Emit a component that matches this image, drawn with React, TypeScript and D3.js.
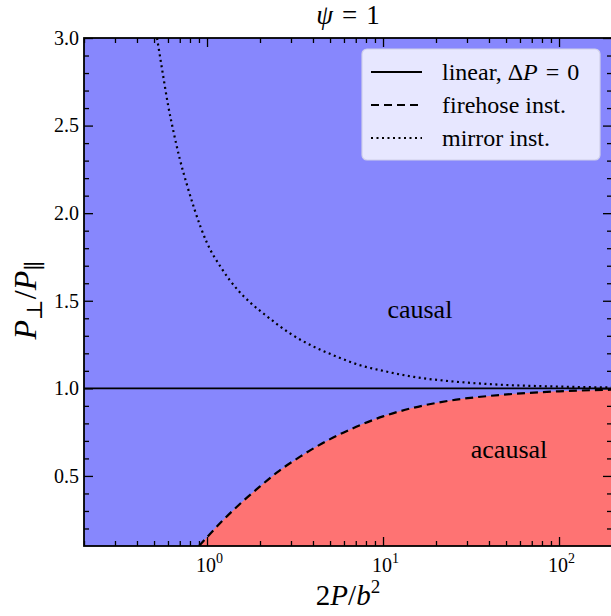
import { useEffect, useRef } from 'react'
import * as d3 from 'd3'

// Curves (x = 2P/b^2, y = P_perp / P_par)
const mirrorX = [0.52, 0.56, 0.6, 0.65, 0.7, 0.77, 0.85, 0.92, 1.0, 1.2, 1.5, 1.76, 2.2, 3.0, 4.0, 5.5, 7.5, 10, 15, 24, 46, 100, 200]
const mirrorY = [3.0, 2.8, 2.62, 2.45, 2.31, 2.16, 2.02, 1.92, 1.83, 1.69, 1.56, 1.49, 1.41, 1.31, 1.24, 1.18, 1.13, 1.1, 1.065, 1.041, 1.021, 1.01, 1.005]

const firehoseX = [0.9, 1.0, 1.2, 1.5, 2.0, 2.5, 3.38, 4.5, 6.5, 10, 15, 24, 46, 100, 200]
const firehoseY = [0.1, 0.15, 0.235, 0.33, 0.44, 0.52, 0.61, 0.685, 0.765, 0.84, 0.89, 0.93, 0.962, 0.983, 0.992]

const xDomain = [0.2, 200]
const yDomain = [0.1, 3.0]
const xMajor = [1, 10, 100]
const yMajor = [0.5, 1.0, 1.5, 2.0, 2.5, 3.0]

const legendItems = [
  { label: 'linear', dash: null },
  { label: 'firehose inst.', dash: '8,5' },
  { label: 'mirror inst.', dash: '2,3.5' },
]

const BLUE = '#8787fd'
const RED = '#fe7373'
const SERIF = "'Liberation Serif', 'Times New Roman', 'DejaVu Serif', 'Noto Serif', serif"

function App() {
  const ref = useRef<SVGSVGElement>(null)

  useEffect(() => {
    const width = 611
    const height = 616
    const margin = { top: 38, right: -1, bottom: 70, left: 84 }
    const w = width - margin.left - margin.right
    const h = height - margin.top - margin.bottom

    const root = d3.select(ref.current)
    root.selectAll('*').remove()

    const svg = root.append('g').attr('transform', `translate(${margin.left},${margin.top})`)

    const x = d3.scaleLog().domain(xDomain).range([0, w])
    const y = d3.scaleLinear().domain(yDomain).range([h, 0])

    svg.append('clipPath').attr('id', 'plot-clip')
      .append('rect').attr('width', w).attr('height', h)

    const plot = svg.append('g').attr('clip-path', 'url(#plot-clip)')

    // causal background
    plot.append('rect').attr('width', w).attr('height', h).attr('fill', BLUE)

    const fire = firehoseX.map((d, i) => [d, firehoseY[i]] as [number, number])
    const mirror = mirrorX.map((d, i) => [d, mirrorY[i]] as [number, number])

    // acausal region under the firehose curve
    const area = d3.area<[number, number]>()
      .x(d => x(d[0]))
      .y0(h)
      .y1(d => y(d[1]))
      .curve(d3.curveMonotoneX)
    plot.append('path').datum(fire).attr('d', area).attr('fill', RED)

    const line = d3.line<[number, number]>()
      .x(d => x(d[0]))
      .y(d => y(d[1]))
      .curve(d3.curveMonotoneX)

    plot.append('line')
      .attr('x1', 0).attr('x2', w)
      .attr('y1', y(1)).attr('y2', y(1))
      .attr('stroke', '#000').attr('stroke-width', 1.8)

    plot.append('path').datum(fire).attr('d', line)
      .attr('fill', 'none').attr('stroke', '#000').attr('stroke-width', 2.2)
      .attr('stroke-dasharray', '8,5')

    plot.append('path').datum(mirror).attr('d', line)
      .attr('fill', 'none').attr('stroke', '#000').attr('stroke-width', 2.2)
      .attr('stroke-dasharray', '2,3.5')

    // region labels
    svg.append('text')
      .attr('x', x(16.2)).attr('y', y(1.4))
      .attr('text-anchor', 'middle')
      .style('font-family', SERIF).attr('font-size', 26)
      .text('causal')
    svg.append('text')
      .attr('x', x(52)).attr('y', y(0.6))
      .attr('text-anchor', 'middle')
      .style('font-family', SERIF).attr('font-size', 26)
      .text('acausal')

    // legend
    const lg = svg.append('g').attr('transform', `translate(${362 - margin.left},${49 - margin.top})`)
    lg.append('rect')
      .attr('width', 238).attr('height', 111).attr('rx', 5)
      .attr('fill', '#e7e7ff').attr('stroke', '#d0d0ea').attr('stroke-width', 1.2)
    legendItems.forEach((item, i) => {
      const cy = 23 + i * 33
      const row = lg.append('g').attr('transform', `translate(0,${cy})`)
      row.append('line')
        .attr('x1', 9).attr('x2', 60)
        .attr('stroke', '#000').attr('stroke-width', 2.2)
        .attr('stroke-dasharray', item.dash)
      const t = row.append('text')
        .attr('x', 80).attr('y', 8)
        .style('font-family', SERIF).attr('font-size', 24)
      t.append('tspan').text(item.label)
      if (i === 0) {
        t.append('tspan').text(', Δ')
        t.append('tspan').attr('font-style', 'italic').text('P')
        t.append('tspan').text('\u2004=\u20040')
      }
    })

    // axes: ticks pointing inward on all four sides
    const styleAxis = (g: d3.Selection<SVGGElement, unknown, null, undefined>) => {
      g.attr('font-family', SERIF).style('font-family', SERIF)
      g.select('.domain').remove()
      g.selectAll('.tick line').attr('stroke', '#000').attr('stroke-width', 1.3)
      g.selectAll('.tick text')
        .attr('font-family', SERIF).style('font-family', SERIF)
        .attr('font-size', 20).attr('fill', '#000')
    }

    const xMinor = x.ticks().filter(v => !xMajor.includes(v))
    const yMinor = d3.range(2, 31).map(v => v / 10).filter(v => !yMajor.some(m => Math.abs(m - v) < 1e-9))

    // bottom
    const gxb = svg.append('g').attr('transform', `translate(0,${h})`)
      .call(d3.axisBottom(x).tickValues(xMajor).tickSizeInner(-9).tickSizeOuter(0).tickPadding(12).tickFormat(() => ''))
      .call(styleAxis)
    gxb.selectAll<SVGTextElement, number>('.tick text').each(function (d) {
      const t = d3.select(this)
      t.append('tspan').text('10')
      t.append('tspan').attr('dy', -9).attr('font-size', 14).text(String(Math.round(Math.log10(d))))
    }).attr('dy', '0.71em').attr('dx', '0.1em')
    svg.append('g').attr('transform', `translate(0,${h})`)
      .call(d3.axisBottom(x).tickValues(xMinor).tickSizeInner(-5).tickSizeOuter(0).tickFormat(() => ''))
      .call(styleAxis)

    // top
    svg.append('g')
      .call(d3.axisTop(x).tickValues(xMajor).tickSizeInner(-9).tickSizeOuter(0).tickFormat(() => ''))
      .call(styleAxis)
    svg.append('g')
      .call(d3.axisTop(x).tickValues(xMinor).tickSizeInner(-5).tickSizeOuter(0).tickFormat(() => ''))
      .call(styleAxis)

    // left
    svg.append('g')
      .call(d3.axisLeft(y).tickValues(yMajor).tickSizeInner(-9).tickSizeOuter(0).tickPadding(5).tickFormat(d3.format('.1f')))
      .call(styleAxis)
    svg.append('g')
      .call(d3.axisLeft(y).tickValues(yMinor).tickSizeInner(-5).tickSizeOuter(0).tickFormat(() => ''))
      .call(styleAxis)

    // right
    svg.append('g').attr('transform', `translate(${w},0)`)
      .call(d3.axisRight(y).tickValues(yMajor).tickSizeInner(-9).tickSizeOuter(0).tickFormat(() => ''))
      .call(styleAxis)
    svg.append('g').attr('transform', `translate(${w},0)`)
      .call(d3.axisRight(y).tickValues(yMinor).tickSizeInner(-5).tickSizeOuter(0).tickFormat(() => ''))
      .call(styleAxis)

    // frame
    svg.append('rect').attr('width', w).attr('height', h)
      .attr('fill', 'none').attr('stroke', '#000').attr('stroke-width', 1.8)

    // title
    const title = svg.append('text')
      .attr('x', w / 2).attr('y', -14)
      .attr('text-anchor', 'middle')
      .style('font-family', SERIF).attr('font-size', 27)
    title.append('tspan').attr('font-style', 'italic').text('ψ')
    title.append('tspan').text('\u2004=\u20041')

    // x label
    const xl = svg.append('text')
      .attr('x', w / 2).attr('y', h + 59)
      .attr('text-anchor', 'middle')
      .style('font-family', SERIF).attr('font-size', 29)
    xl.append('tspan').text('2')
    xl.append('tspan').attr('font-style', 'italic').text('P')
    xl.append('tspan').text('/')
    xl.append('tspan').attr('font-style', 'italic').text('b')
    xl.append('tspan').attr('dy', -12).attr('font-size', 19).text('2')

    // y label
    const yl = svg.append('text')
      .attr('transform', `translate(${-48},${h / 2 + 8}) rotate(-90)`)
      .attr('text-anchor', 'middle')
      .style('font-family', SERIF).attr('font-size', 32)
    yl.append('tspan').attr('font-style', 'italic').text('P')
    yl.append('tspan').attr('dy', 6).attr('font-size', 22).text('⊥')
    yl.append('tspan').attr('dy', -6).text('/')
    yl.append('tspan').attr('font-style', 'italic').text('P')
    yl.append('tspan').attr('dy', 6).attr('font-size', 22).text('∥')
  }, [])

  return (
    <svg ref={ref} width={611} height={616}
      style={{ position: 'absolute', left: 0, top: 0, background: '#fff' }} />
  )
}

export default App
